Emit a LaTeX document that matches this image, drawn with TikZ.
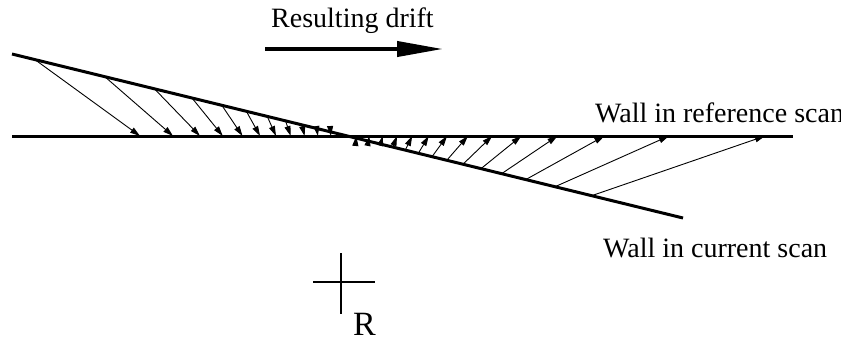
\documentclass[tikz,border=0pt]{standalone}
\usepackage{fontspec}
\setmainfont{Liberation Serif}
\usetikzlibrary{arrows.meta,calc}
\begin{document}
\begin{tikzpicture}[x=1pt,y=-1pt,
  wall/.style={line width=3pt},
  beam/.style={line width=0.9pt,-{Triangle[length=10pt,width=6pt]}},
  lbl/.style={anchor=base west,inner sep=0pt,font=\fontsize{28}{33}\selectfont},
  crossline/.style={line width=2pt}]
\useasboundingbox (0,0) rectangle (841,338);
\clip (0,0) rectangle (841,338);
% walls
\coordinate (W1) at (12,54);
\coordinate (W2) at (683,218);
\coordinate (F1) at (12,136);
\coordinate (F2) at (793,136);
\draw[wall] (F1) -- (F2);
\draw[wall] (W1) -- (W2);
% beams from the scanner position (341,282)
\foreach \a [count=\i] in {-54,-49,...,-4,6,11,...,71}{
  \pgfmathsetmacro\rx{341+146*tan(\a)}
  \pgfmathsetmacro\kk{164/671}
  \pgfmathsetmacro\tt{(228-329*\kk)/(cos(\a)+\kk*sin(\a))}
  \pgfmathsetmacro\cx{341+\tt*sin(\a)}
  \pgfmathsetmacro\cy{282-\tt*cos(\a)}
  \coordinate (r\i) at (\rx,136);
  \coordinate (c\i) at (\cx,\cy);
  \draw[beam] (c\i) -- (r\i);
}
% drift arrow
\coordinate (D1) at (265,49);
\coordinate (D2) at (443,49);
\draw[line width=4pt,-{Triangle[length=46pt,width=15pt]}] (D1) -- (D2);
\node[lbl] (drift) at (271,27) {Resulting drift};
% labels
\node[lbl] (refl) at (595,122) {Wall in reference scan};
\node[lbl] (curl) at (603,257) {Wall in current scan};
% R cross
\coordinate (V1) at (341,253);
\coordinate (V2) at (341,314);
\coordinate (H1) at (313,282);
\coordinate (H2) at (375,282);
\draw[crossline] (V1) -- (V2);
\draw[crossline] (H1) -- (H2);
\node[lbl,font=\fontsize{34}{40}\selectfont] (R) at (353,335) {R};
\end{tikzpicture}
\end{document}
